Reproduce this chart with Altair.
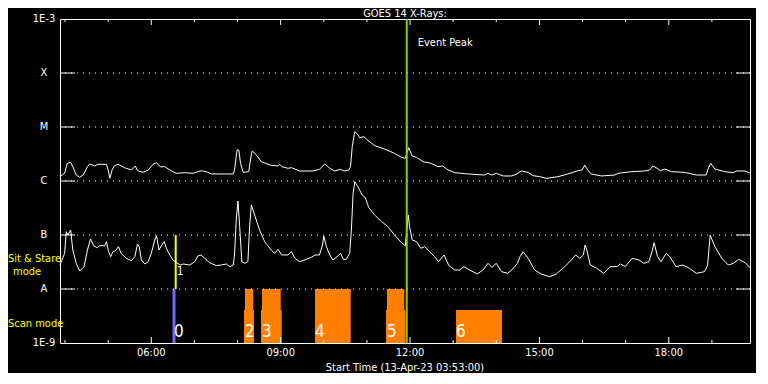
import altair as alt
import pandas as pd

FONT = "Liberation Sans Narrow, DejaVu Sans Condensed, DejaVu Sans"

# ---- data (time in decimal hours, log10 of flux W/m^2) ----
long_hours = [3.90, 3.99, 4.05, 4.13, 4.18, 4.26, 4.34, 4.42, 4.52, 4.57, 4.69, 4.76, 4.96, 5.00, 5.04,
              5.09, 5.15, 5.23, 5.38, 5.54, 5.63, 5.68, 5.81, 5.93, 6.04, 6.12, 6.20, 6.31, 6.46, 6.58,
              6.77, 6.97, 7.16, 7.32, 7.39, 7.70, 7.90, 7.93, 7.99, 8.03, 8.07, 8.13, 8.26, 8.31, 8.34,
              8.44, 8.55, 8.78, 8.94, 8.98, 9.03, 9.17, 9.25, 9.44, 9.75, 9.90, 10.02, 10.14, 10.25,
              10.39, 10.47, 10.58, 10.62, 10.66, 10.72, 10.78, 10.83, 10.93, 11.03, 11.18, 11.41, 11.64,
              11.80, 11.89, 11.97, 12.05, 12.15, 12.30, 12.49, 12.65, 12.76, 12.88, 13.04, 13.34, 13.73,
              13.81, 13.89, 14.00, 14.16, 14.35, 14.46, 14.58, 14.74, 14.85, 15.01, 15.16, 15.43, 15.66,
              15.90, 15.99, 16.05, 16.13, 16.20, 16.44, 16.75, 16.82, 17.13, 17.44, 17.56, 17.63, 17.73,
              17.81, 17.91, 18.06, 18.37, 18.64, 18.87, 18.91, 18.97, 19.07, 19.30, 19.50, 19.57, 19.77,
              19.90]
long_log_flux = [-5.907, -5.858, -5.673, -5.654, -5.735, -5.889, -5.932, -5.889, -5.735, -5.685, -5.722,
                 -5.691, -5.691, -5.796, -5.951, -5.796, -5.716, -5.691, -5.753, -5.796, -5.722, -5.809,
                 -5.840, -5.796, -5.691, -5.660, -5.735, -5.735, -5.809, -5.858, -5.846, -5.858, -5.809,
                 -5.840, -5.870, -5.870, -5.870, -5.796, -5.426, -5.426, -5.673, -5.840, -5.827, -5.549,
                 -5.444, -5.519, -5.642, -5.710, -5.722, -5.691, -5.735, -5.765, -5.753, -5.815, -5.815,
                 -5.784, -5.685, -5.765, -5.815, -5.784, -5.815, -5.796, -5.735, -5.364, -5.086, -5.130,
                 -5.198, -5.179, -5.253, -5.346, -5.407, -5.488, -5.562, -5.580, -5.383, -5.537, -5.562,
                 -5.642, -5.673, -5.735, -5.722, -5.796, -5.846, -5.870, -5.889, -5.858, -5.889, -5.858,
                 -5.907, -5.907, -5.877, -5.815, -5.840, -5.901, -5.920, -5.951, -5.920, -5.870, -5.809,
                 -5.796, -5.704, -5.809, -5.870, -5.907, -5.889, -5.858, -5.827, -5.815, -5.796, -5.722,
                 -5.765, -5.809, -5.778, -5.827, -5.840, -5.889, -5.889, -5.778, -5.673, -5.778, -5.827,
                 -5.846, -5.815, -5.815, -5.858]

short_hours = [3.88, 3.93, 3.99, 4.03, 4.07, 4.13, 4.18, 4.26, 4.34, 4.44, 4.52, 4.59, 4.67, 4.75, 4.80,
               4.92, 4.96, 5.01, 5.06, 5.11, 5.17, 5.24, 5.30, 5.42, 5.54, 5.62, 5.68, 5.72, 5.77, 5.85,
               5.93, 6.00, 6.08, 6.12, 6.18, 6.23, 6.30, 6.35, 6.43, 6.50, 6.58, 6.68, 6.74, 6.89, 7.01,
               7.08, 7.15, 7.24, 7.35, 7.51, 7.62, 7.74, 7.82, 7.90, 7.93, 7.97, 8.01, 8.05, 8.10, 8.17,
               8.24, 8.28, 8.32, 8.41, 8.51, 8.63, 8.78, 8.86, 8.94, 9.02, 9.17, 9.25, 9.33, 9.44, 9.60,
               9.71, 9.80, 9.90, 9.97, 10.00, 10.06, 10.14, 10.21, 10.31, 10.39, 10.45, 10.52, 10.60,
               10.64, 10.68, 10.72, 10.79, 10.89, 10.96, 11.04, 11.18, 11.34, 11.49, 11.64, 11.80, 11.89,
               11.96, 11.99, 12.05, 12.15, 12.25, 12.34, 12.42, 12.57, 12.66, 12.79, 12.90, 13.04, 13.15,
               13.25, 13.38, 13.56, 13.69, 13.81, 13.90, 14.00, 14.12, 14.26, 14.36, 14.49, 14.55, 14.62,
               14.74, 14.89, 15.04, 15.24, 15.39, 15.59, 15.74, 15.84, 15.94, 16.02, 16.06, 16.10, 16.18,
               16.33, 16.49, 16.64, 16.80, 16.88, 16.99, 17.15, 17.31, 17.42, 17.54, 17.61, 17.66, 17.74,
               17.82, 17.94, 18.02, 18.17, 18.33, 18.48, 18.64, 18.83, 18.90, 18.96, 19.07, 19.23, 19.38,
               19.50, 19.62, 19.77, 19.90]
short_log_flux = [-7.556, -7.463, -7.340, -6.938, -7.000, -6.907, -7.278, -7.525, -7.667, -7.586, -7.278,
                  -7.074, -7.204, -7.235, -7.198, -7.198, -7.123, -7.309, -7.401, -7.309, -7.290, -7.216,
                  -7.340, -7.432, -7.475, -7.401, -7.167, -7.216, -7.463, -7.537, -7.494, -7.340, -7.093,
                  -7.012, -7.278, -7.204, -7.123, -7.247, -7.370, -7.463, -7.512, -7.556, -7.537, -7.556,
                  -7.494, -7.389, -7.370, -7.432, -7.512, -7.568, -7.556, -7.537, -7.586, -7.556, -7.370,
                  -6.722, -6.370, -6.846, -7.494, -7.525, -7.494, -6.846, -6.444, -6.660, -6.907, -7.123,
                  -7.278, -7.340, -7.265, -7.370, -7.370, -7.309, -7.432, -7.494, -7.451, -7.414, -7.370,
                  -7.370, -7.185, -7.019, -7.216, -7.370, -7.463, -7.401, -7.340, -7.451, -7.451, -7.340,
                  -6.907, -6.228, -6.012, -6.105, -6.259, -6.302, -6.488, -6.630, -6.753, -6.846, -7.000,
                  -7.142, -7.198, -6.630, -6.846, -7.093, -7.123, -7.247, -7.216, -7.278, -7.401, -7.494,
                  -7.370, -7.568, -7.648, -7.648, -7.586, -7.648, -7.722, -7.648, -7.525, -7.599, -7.525,
                  -7.679, -7.710, -7.648, -7.525, -7.401, -7.309, -7.432, -7.648, -7.722, -7.772, -7.722,
                  -7.586, -7.463, -7.370, -7.432, -7.370, -7.185, -7.278, -7.556, -7.617, -7.710, -7.586,
                  -7.586, -7.537, -7.586, -7.432, -7.463, -7.525, -7.494, -7.309, -7.142, -7.401, -7.494,
                  -7.340, -7.401, -7.586, -7.556, -7.617, -7.710, -7.679, -7.556, -7.000, -7.216, -7.432,
                  -7.556, -7.525, -7.451, -7.512, -7.617]

# scan mode observations (orange blocks)
scan_start = [8.150, 8.173, 8.544, 8.567, 9.796, 11.443, 11.466, 13.066]
scan_end = [8.382, 8.366, 9.024, 9.001, 10.624, 11.890, 11.867, 14.133]
scan_top = [4.1e-9, 1e-8, 4.1e-9, 1e-8, 1e-8, 4.1e-9, 1e-8, 4.1e-9]

obs_labels = ["0", "2", "3", "4", "5", "6"]
obs_label_hours = [6.527, 8.173, 8.567, 9.796, 11.466, 13.066]

scan0_hour = 6.527        # blue scan-mode line "0"
sit_stare_hour = 6.566    # yellow sit & stare line "1"
event_peak_hour = 11.923

level_values = [1e-9, 1e-8, 1e-7, 1e-6, 1e-5, 1e-4, 1e-3]
level_labels = ["1E-9", "A", "B", "C", "M", "X", "1E-3"]
grid_levels = [1e-8, 1e-7, 1e-6, 1e-5, 1e-4]
tick_hours = list(range(4, 20))
label_hours = [6, 9, 12, 15, 18]
time_labels = ["06:00", "09:00", "12:00", "15:00", "18:00"]
x_title = "Start Time (13-Apr-23 03:53:00)"
chart_title = "GOES 14 X-Rays:"
t_start, t_end = 3.8833, 19.8833

W, H = 690, 324

# ---- tables ----
curves = pd.concat([
    pd.DataFrame({"hours": long_hours, "flux": [10 ** v for v in long_log_flux], "ch": "long"}),
    pd.DataFrame({"hours": short_hours, "flux": [10 ** v for v in short_log_flux], "ch": "short"}),
])
scans = pd.DataFrame({"start": scan_start, "end": scan_end, "top": scan_top, "bottom": 1e-9})
labels_df = pd.DataFrame({"hours": obs_label_hours, "text": obs_labels, "flux": 1.6e-9})
grid_df = pd.DataFrame({"level": grid_levels})
minor_df = pd.DataFrame({"hours": [h for h in tick_hours if h not in label_hours]})
major_df = pd.DataFrame({"hours": label_hours, "text": time_labels})
ylab_df = pd.DataFrame({"level": level_values, "text": level_labels})

xs = alt.Scale(domain=[t_start, t_end], nice=False, zero=False)
ys = alt.Scale(type="log", domain=[1e-9, 1e-3], nice=False)

base_x = alt.X("hours:Q", scale=xs, axis=None)


def Y(field):
    return alt.Y(field, scale=ys, axis=None)


lines = alt.Chart(curves).mark_line(color="white", strokeWidth=1).encode(
    x=base_x, y=Y("flux:Q"), detail="ch:N")

bars = alt.Chart(scans).mark_rect(color="#ff8000").encode(
    x=alt.X("start:Q", scale=xs, axis=None), x2="end:Q", y=Y("top:Q"), y2="bottom:Q")

blue = alt.Chart(pd.DataFrame({"hours": [scan0_hour], "lo": [1e-9], "hi": [1e-8]})).mark_rule(
    color="#6b6bff", strokeWidth=3).encode(x=base_x, y=Y("lo:Q"), y2="hi:Q")
yellow = alt.Chart(pd.DataFrame({"hours": [sit_stare_hour], "lo": [1e-8], "hi": [1e-7]})).mark_rule(
    color="#ffff00", strokeWidth=2).encode(x=base_x, y=Y("lo:Q"), y2="hi:Q")

grid = alt.Chart(grid_df).mark_rule(color="white", strokeDash=[1, 5], strokeWidth=1).encode(y=Y("level:Q"))
lticks = alt.Chart(grid_df).mark_rule(color="white", strokeWidth=1).encode(
    y=Y("level:Q"), x=alt.value(0), x2=alt.value(15))
rticks = alt.Chart(grid_df).mark_rule(color="white", strokeWidth=1).encode(
    y=Y("level:Q"), x=alt.value(W - 14), x2=alt.value(W))

bt_minor = alt.Chart(minor_df).mark_rule(color="white").encode(x=base_x, y=alt.value(H), y2=alt.value(H - 3))
bt_major = alt.Chart(major_df).mark_rule(color="white").encode(x=base_x, y=alt.value(H), y2=alt.value(H - 6))
tt_minor = alt.Chart(minor_df).mark_rule(color="white").encode(x=base_x, y=alt.value(0), y2=alt.value(3))
tt_major = alt.Chart(major_df).mark_rule(color="white").encode(x=base_x, y=alt.value(0), y2=alt.value(6))

# axis labels and titles
ylabels = alt.Chart(ylab_df).mark_text(color="white", align="center", baseline="middle", fontSize=11,
                                       font=FONT).encode(x=alt.value(-16), y=Y("level:Q"), text="text:N")
xlabels = alt.Chart(major_df).mark_text(color="white", align="center", baseline="middle", fontSize=11,
                                        font=FONT).encode(x=base_x, y=alt.value(H + 10), text="text:N")
xtitle = alt.Chart(pd.DataFrame({"t": [x_title]})).mark_text(
    color="white", align="center", baseline="middle", fontSize=11, font=FONT).encode(
    x=alt.value(W / 2), y=alt.value(H + 25), text="t:N")
top_title = alt.Chart(pd.DataFrame({"t": [chart_title]})).mark_text(
    color="white", align="center", baseline="middle", fontSize=11, font=FONT).encode(
    x=alt.value(W / 2), y=alt.value(-5.5), text="t:N")

peak = alt.Chart(pd.DataFrame({"hours": [event_peak_hour], "lo": [1e-9], "hi": [1e-3]})).mark_rule(
    color="#99cc00", strokeWidth=2).encode(x=base_x, y=Y("lo:Q"), y2="hi:Q")

peak_text = alt.Chart(pd.DataFrame({"hours": [event_peak_hour], "flux": [3.6e-4], "t": ["Event Peak"]})).mark_text(
    color="white", align="left", baseline="middle", dx=11, fontSize=11, font=FONT).encode(
    x=base_x, y=Y("flux:Q"), text="t:N")

one_text = alt.Chart(pd.DataFrame({"hours": [sit_stare_hour], "flux": [2.15e-8], "t": ["1"]})).mark_text(
    color="white", align="left", baseline="middle", dx=1, fontSize=12, font=FONT).encode(
    x=base_x, y=Y("flux:Q"), text="t:N")

obs_text = alt.Chart(labels_df).mark_text(
    color="white", align="left", baseline="middle", dx=0, fontSize=17, font=FONT).encode(
    x=base_x, y=Y("flux:Q"), text="text:N")

side_df = pd.DataFrame({"t": ["Sit & Stare", "mode", "Scan mode"], "flux": [3.6e-8, 2.1e-8, 2.25e-9]})
side1 = alt.Chart(side_df.iloc[[0]]).mark_text(color="#ffff00", align="left", baseline="middle", fontSize=11,
                                               font=FONT).encode(x=alt.value(-52), y=Y("flux:Q"), text="t:N")
side2 = alt.Chart(side_df.iloc[[1]]).mark_text(color="#ffff00", align="left", baseline="middle", fontSize=11,
                                               font=FONT).encode(x=alt.value(-47), y=Y("flux:Q"), text="t:N")
side3 = alt.Chart(side_df.iloc[[2]]).mark_text(color="#ffff00", align="left", baseline="middle", fontSize=11,
                                               font=FONT).encode(x=alt.value(-52), y=Y("flux:Q"), text="t:N")

chart = alt.layer(
    bars, blue, yellow, grid, lticks, rticks, bt_minor, bt_major, tt_minor, tt_major,
    lines, peak, peak_text, one_text, obs_text, side1, side2, side3, ylabels, xlabels, xtitle, top_title
).properties(
    width=W, height=H,
    autosize=alt.AutoSizeParams(type="none"),
    padding={"left": 52, "top": 11, "right": 6, "bottom": 30},
).configure(background="black").configure_view(stroke="white", strokeWidth=1)

chart.save("out.html", embed_options={"renderer": "svg", "actions": False})
